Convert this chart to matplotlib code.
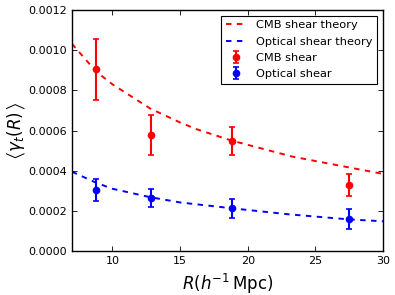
import matplotlib
matplotlib.use("Agg")
import matplotlib.pyplot as plt

# Measured data
R_pts = [8.8, 12.85, 18.8, 27.45]
cmb_vals = [0.000906, 0.000578, 0.000548, 0.000329]
cmb_errs = [0.000152, 0.000098, 0.000068, 0.000053]
opt_vals = [0.000304, 0.000264, 0.000214, 0.000161]
opt_errs = [0.000055, 0.000046, 0.000047, 0.000050]

# Theory curves
R_cmb_th = [7, 8.8, 10, 12.8, 15, 16.2, 18.8, 23.3, 28.2, 30]
cmb_th = [0.001032, 0.000893, 0.000830, 0.000709, 0.000640, 0.000607,
          0.000550, 0.000470, 0.000407, 0.000384]
R_opt_th = [7, 8.8, 10, 12.8, 15, 18.8, 23, 27.4, 30]
opt_th = [0.000395, 0.000340, 0.000310, 0.000268, 0.000242, 0.000213,
          0.000183, 0.000158, 0.000148]

yticks = [0.0, 0.0002, 0.0004, 0.0006, 0.0008, 0.0010, 0.0012]
xticks = [10, 15, 20, 25, 30]

fig = plt.figure(figsize=(3.95, 2.95), dpi=100)
ax = fig.add_axes([0.182, 0.149, 0.788, 0.817])

ax.plot(R_cmb_th, cmb_th, color='red', lw=1.4, ls=(0, (2.8, 2.8)),
        label='CMB shear theory')
ax.plot(R_opt_th, opt_th, color='blue', lw=1.4, ls=(0, (2.8, 2.8)),
        label='Optical shear theory')
ax.errorbar(R_pts, cmb_vals, yerr=cmb_errs, fmt='o', color='red', ms=4.5,
            capsize=2.2, elinewidth=1.5, capthick=1.2, label='CMB shear')
ax.errorbar(R_pts, opt_vals, yerr=opt_errs, fmt='o', color='blue', ms=4.5,
            capsize=2.2, elinewidth=1.5, capthick=1.2, label='Optical shear')

ax.set_xlim(7, 30)
ax.set_ylim(0, 0.0012)
ax.set_xticks(xticks)
ax.set_yticks(yticks)
ax.set_yticklabels(['%.4f' % v for v in yticks])
ax.tick_params(direction='in', top=True, right=True, labelsize=8, length=3.5, width=0.6)
for s in ax.spines.values():
    s.set_linewidth(1.0)

ax.set_xlabel(r'$R(h^{-1}\,\mathrm{Mpc})$', fontsize=12, labelpad=4)
ax.set_ylabel(r'$\left\langle\gamma_t(R)^{\ }_{\ }\!\right\rangle$', fontsize=12, labelpad=1)

leg = ax.legend(loc='upper right', fontsize=8.2, fancybox=False, framealpha=1,
                edgecolor='black', handlelength=1.9, handletextpad=0.8,
                borderaxespad=0.5, labelspacing=0.55, numpoints=1)
leg.get_frame().set_linewidth(0.8)

fig.savefig('out.png', dpi=100)
